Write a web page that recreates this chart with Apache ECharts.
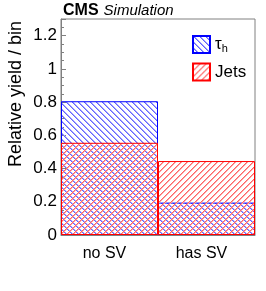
<!DOCTYPE html>
<html>
<head>
<meta charset="utf-8">
<script src="https://cdn.jsdelivr.net/npm/echarts@6/dist/echarts.min.js"></script>
<style>
html,body{margin:0;padding:0;background:#fff;}
#c{width:266px;height:291px;}
</style>
</head>
<body>
<div id="c"></div>
<script>
const categories = ['no SV', 'has SV'];
const tauValues = [0.805, 0.195];
const jetsValues = [0.555, 0.445];
const yTicks = [0, 0.2, 0.4, 0.6, 0.8, 1, 1.2];

function hatch(main, light, dir) {
  const p = 6;
  const c = document.createElement('canvas');
  c.width = p; c.height = p;
  const ctx = c.getContext('2d');
  for (let y = 0; y < p; y++) {
    for (let x = 0; x < p; x++) {
      const d = dir > 0 ? ((x + y) % p) : (((x - y) % p + p) % p);
      if (d === 0) { ctx.fillStyle = main; ctx.fillRect(x, y, 1, 1); }
      else if (d === 1) { ctx.fillStyle = light; ctx.fillRect(x, y, 1, 1); }
    }
  }
  return c;
}
const bluePat = { image: hatch('rgb(100,100,255)', 'rgb(165,165,255)', -1), repeat: 'repeat' };
const redPat = { image: hatch('rgb(255,100,100)', 'rgb(255,165,165)', 1), repeat: 'repeat' };

const chart = echarts.init(document.getElementById('c'), null, { renderer: 'canvas' });
const font = 'Liberation Sans, Arial, Helvetica, sans-serif';
chart.setOption({
  animation: false,
  textStyle: { fontFamily: font },
  title: {
    left: 63, top: 2, padding: 0,
    text: '{a|CMS} {b|Simulation}',
    textStyle: {
      rich: {
        a: { fontFamily: font, fontWeight: 'bold', fontSize: 16, color: '#000' },
        b: { fontFamily: font, fontStyle: 'italic', fontWeight: 'normal', fontSize: 15, color: '#000' }
      }
    }
  },
  graphic: [{
    type: 'text', x: 16, y: 94, rotation: Math.PI / 2,
    style: { text: 'Relative yield / bin', font: '18px ' + font, fill: '#000', textAlign: 'center', textVerticalAlign: 'middle' }
  }],
  legend: {
    orient: 'vertical', left: 192, top: 35, padding: 0,
    itemWidth: 17, itemHeight: 17, itemGap: 8,
    icon: 'rect',
    data: ['tau', 'Jets'],
    formatter: function (n) { return n === 'tau' ? '{t|τ}{s|h}' : '{t|Jets}'; },
    textStyle: {
      color: '#000', fontSize: 16, fontFamily: font,
      rich: {
        t: { fontSize: 17, fontFamily: font, color: '#000' },
        s: { fontSize: 11, fontFamily: font, color: '#000', padding: [9, 0, 0, 0] }
      }
    }
  },
  grid: { left: 61, right: 11, top: 19, bottom: 56, show: true, borderColor: '#808080', borderWidth: 1 },
  xAxis: {
    type: 'category', data: categories,
    axisLine: { lineStyle: { color: '#808080' } },
    axisTick: { inside: true, alignWithLabel: true, length: 5, lineStyle: { color: '#808080' } },
    axisLabel: { color: '#000', fontSize: 16, fontFamily: font, margin: 11, padding: [0, 10, 0, 0] }
  },
  yAxis: {
    type: 'value', min: 0, max: 1.3, interval: 0.2,
    axisLine: { show: true, lineStyle: { color: '#808080' } },
    axisTick: { show: true, inside: true, length: 5, lineStyle: { color: '#808080' } },
    minorTick: { show: true, splitNumber: 4, length: 3, lineStyle: { color: '#808080' } },
    splitLine: { show: false },
    axisLabel: {
      color: '#000', fontSize: 17, fontFamily: font, margin: 4,
      formatter: function (v) {
        const t = yTicks.find(function (k) { return Math.abs(k - v) < 1e-6; });
        return t === undefined ? '' : String(t);
      }
    }
  },
  series: [
    {
      name: 'tau', type: 'bar', data: tauValues,
      barCategoryGap: '0%', barGap: '-100%',
      itemStyle: { color: bluePat, borderColor: '#0000ff', borderWidth: 1 }
    },
    {
      name: 'Jets', type: 'bar', data: jetsValues,
      barCategoryGap: '0%', barGap: '-100%',
      itemStyle: { color: redPat, borderColor: '#ff0000', borderWidth: 1 }
    }
  ]
});
</script>
</body>
</html>
